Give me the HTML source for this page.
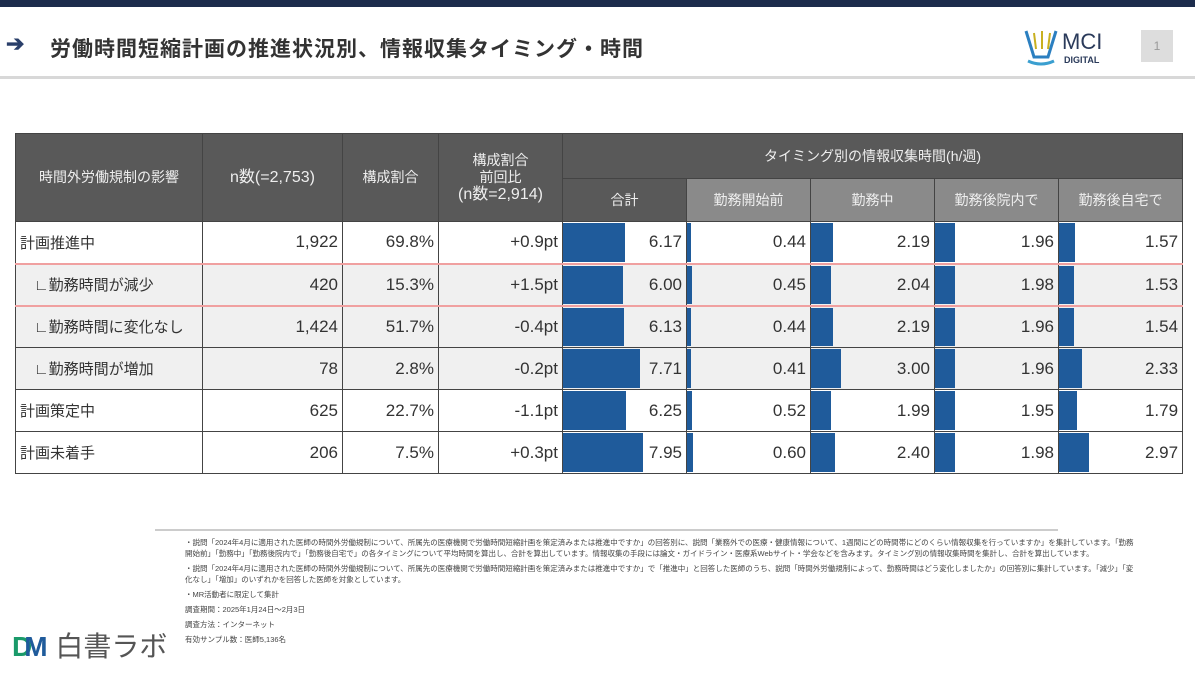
<!DOCTYPE html>
<html><head><meta charset="utf-8">
<style>
*{margin:0;padding:0;box-sizing:border-box}
body{width:1195px;height:686px;background:#fff;font-family:"Liberation Sans","Noto Sans CJK JP",sans-serif;position:relative;overflow:hidden;color:#333}
.abs{position:absolute}
#topband{left:0;top:0;width:1195px;height:7px;background:#1c2c4c}
#hdr{left:0;top:7px;width:1195px;height:72px;background:#fff;border-bottom:3px solid #d8d8d8}
#title{left:50px;top:33px;font-size:21px;font-weight:bold;color:#333;letter-spacing:1px;white-space:nowrap}
#arrow{left:6px;top:31px;font-size:22px;color:#2a3f6a;font-weight:bold}
#logo{left:1022px;top:27px;width:100px;height:40px}
#pg{left:1141px;top:30px;width:32px;height:32px;background:#ddd;color:#999;font-size:12px;text-align:center;line-height:32px}
table{position:absolute;left:15px;top:133px;border-collapse:collapse;width:1167px;table-layout:fixed}
td,th{border:1px solid #444;height:42px;font-size:17px;padding:0 4px;white-space:nowrap;overflow:hidden}
th{color:#eee;font-weight:normal;font-size:14px;background:#595959;text-align:center;line-height:17px}
th.l{background:#8a8a8a}
td.n{text-align:right}
td.lbl{font-size:15px;text-align:left}
tr.sub td{background:#f0f0f0}
tr.sub td.lbl{padding-left:18px}
td.bar{position:relative;padding:0;text-align:right}
td.bar span.b{position:absolute;left:0;top:1px;bottom:1px;background:#1f5b9b}
td.bar span.v{position:relative;padding-right:4px}
tr.red td{border-top:2px solid #f0a0a0;border-bottom:2px solid #f0a0a0}
#rule{left:155px;top:529px;width:903px;height:2px;background:#ccc}
#notes{left:185px;top:537px;width:955px;font-size:7.5px;line-height:11px;color:#444}
#notes p.s{margin-top:4px}
#blogo{left:12px;top:625px;font-size:28px;color:#555}
</style></head><body>
<div class="abs" id="topband"></div>
<div class="abs" id="hdr"></div>
<div class="abs" id="arrow">➔</div>
<div class="abs" id="title">労働時間短縮計画の推進状況別、情報収集タイミング・時間</div>
<div class="abs" id="logo">
<svg width="100" height="40"><path d="M4 4 L12 30 L26 30 L34 4" fill="none" stroke="#2b7fc0" stroke-width="3"/><path d="M6 34 Q19 40 32 34" stroke="#3a9fd0" stroke-width="3" fill="none"/><path d="M12 6 L14 22 M20 4 V22 M28 6 L26 22" stroke="#c8b020" stroke-width="2"/>
<text x="40" y="22" font-size="22" fill="#2a3a5a" font-family="Liberation Sans">MCI</text><text x="42" y="36" font-size="9" font-weight="bold" fill="#2a3a5a" font-family="Liberation Sans">DIGITAL</text></svg></div>
<div class="abs" id="pg">1</div>

<table id="tbl">
<colgroup><col style="width:187px"><col style="width:140px"><col style="width:96px"><col style="width:124px"><col style="width:124px"><col style="width:124px"><col style="width:124px"><col style="width:124px"><col style="width:124px"></colgroup>
<thead>
<tr><th rowspan="2" style="height:88px">時間外労働規制の影響</th><th rowspan="2" style="font-size:16px">n数(=2,753)</th><th rowspan="2">構成割合</th><th rowspan="2">構成割合<br>前回比<br><span style="font-size:16px">(n数=2,914)</span></th><th colspan="5" style="height:45px">タイミング別の情報収集時間(h/週)</th></tr>
<tr><th style="height:43px">合計</th><th class="l">勤務開始前</th><th class="l">勤務中</th><th class="l">勤務後院内で</th><th class="l">勤務後自宅で</th></tr>
</thead>
<tbody id="tb"></tbody>
</table>

<div class="abs" id="rule"></div>
<div class="abs" id="notes">
<p>・説問「2024年4月に適用された医師の時間外労働規制について、所属先の医療機関で労働時間短縮計画を策定済みまたは推進中ですか」の回答別に、説問「業務外での医療・健康情報について、1週間にどの時間帯にどのくらい情報収集を行っていますか」を集計しています。「勤務開始前」「勤務中」「勤務後院内で」「勤務後自宅で」の各タイミングについて平均時間を算出し、合計を算出しています。情報収集の手段には論文・ガイドライン・医療系Webサイト・学会などを含みます。タイミング別の情報収集時間を集計し、合計を算出しています。</p>
<p class="s">・説問「2024年4月に適用された医師の時間外労働規制について、所属先の医療機関で労働時間短縮計画を策定済みまたは推進中ですか」で「推進中」と回答した医師のうち、説問「時間外労働規制によって、勤務時間はどう変化しましたか」の回答別に集計しています。「減少」「変化なし」「増加」のいずれかを回答した医師を対象としています。</p>
<p class="s">・MR活動者に限定して集計</p>
<p class="s">調査期間：2025年1月24日～2月3日</p>
<p class="s">調査方法：インターネット</p>
<p class="s">有効サンプル数：医師5,136名</p>
</div>
<div class="abs" id="blogo"><span style="color:#1a9a6a;font-weight:bold">D</span><span style="color:#1f5b9b;font-weight:bold;margin-left:-8px">M</span> 白書ラボ</div>

<script>
const categories=["計画推進中","∟勤務時間が減少","∟勤務時間に変化なし","∟勤務時間が増加","計画策定中","計画未着手"];
const nCounts=["1,922","420","1,424","78","625","206"];
const shares=["69.8%","15.3%","51.7%","2.8%","22.7%","7.5%"];
const changes=["+0.9pt","+1.5pt","-0.4pt","-0.2pt","-1.1pt","+0.3pt"];
const totalHours=[6.17,6.00,6.13,7.71,6.25,7.95];
const beforeHours=[0.44,0.45,0.44,0.41,0.52,0.60];
const duringHours=[2.19,2.04,2.19,3.00,1.99,2.40];
const afterOfficeHours=[1.96,1.98,1.96,1.96,1.95,1.98];
const afterHomeHours=[1.57,1.53,1.54,2.33,1.79,2.97];
const seriesNames=["total","before","during","after-office","after-home"];
const pxPerHour=10;
function barW(v){return v*pxPerHour;}
const tb=document.getElementById('tb');
const series=[totalHours,beforeHours,duringHours,afterOfficeHours,afterHomeHours];
categories.forEach((c,i)=>{
 const tr=document.createElement('tr');
 
 
 if(i>=1&&i<=3)tr.classList.add('sub');
 if(i===1)tr.classList.add('red');
 const cells=[[c,'lbl'],[nCounts[i],'n'],[shares[i],'n'],[changes[i],'n']];
 const names=['category','n-count','share','change'];
 cells.forEach((cv,k)=>{
  const td=document.createElement('td');
  td.className=cv[1];td.textContent=cv[0];
  
  
  tr.appendChild(td);
 });
 series.forEach((s,k)=>{
  const td=document.createElement('td');
  td.className='bar';
  
  
  const b=document.createElement('span');b.className='b';b.style.width=barW(s[i])+'px';
  
  
  const v=document.createElement('span');v.className='v';v.textContent=s[i].toFixed(2);
  td.appendChild(b);td.appendChild(v);tr.appendChild(td);
 });
 tb.appendChild(tr);
});
</script>
</body></html>
